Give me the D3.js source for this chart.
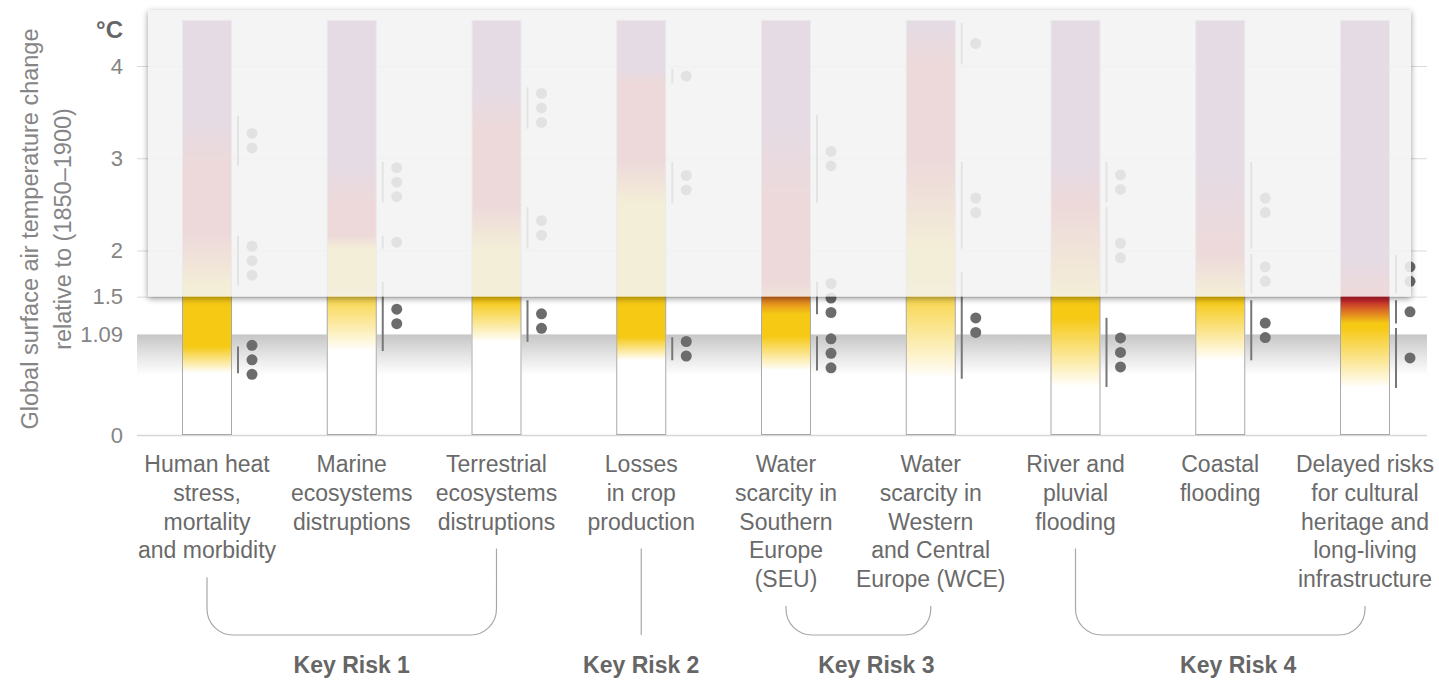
<!DOCTYPE html>
<html>
<head>
<meta charset="utf-8">
<script src="https://cdn.jsdelivr.net/npm/d3@7"></script>
<style>
  html, body { margin: 0; padding: 0; background: #ffffff; }
  svg { display: block; font-family: "Liberation Sans", Arial, sans-serif; }
</style>
</head>
<body>
<svg id="chart" width="1439" height="681"></svg>
<script>
// Risk categories (label lines) in drawing order
const categories = [
  ["Human heat", "stress,", "mortality", "and morbidity"],
  ["Marine", "ecosystems", "distruptions"],
  ["Terrestrial", "ecosystems", "distruptions"],
  ["Losses", "in crop", "production"],
  ["Water", "scarcity in", "Southern", "Europe", "(SEU)"],
  ["Water", "scarcity in", "Western", "and Central", "Europe (WCE)"],
  ["River and", "pluvial", "flooding"],
  ["Coastal", "flooding"],
  ["Delayed risks", "for cultural", "heritage and", "long-living", "infrastructure"]
];

// Risk transitions per category: [from °C, to °C, confidence (number of dots)]
const undetectableToModerate = [
  [0.67, 0.96, 3], [0.91, 1.66, 2], [1.01, 1.46, 2], [0.81, 1.06, 2], [0.70, 1.07, 3],
  [0.61, 1.77, 2], [0.52, 1.27, 3], [0.81, 1.46, 2], [0.51, 1.16, 1]
];
const moderateToHigh = [
  [1.62, 2.16, 3], [2.02, 2.16, 1], [2.02, 2.47, 2], [2.51, 2.96, 2], [1.31, 1.66, 3],
  [2.02, 2.96, 2], [1.53, 2.47, 2], [1.53, 1.96, 2], [1.21, 1.46, 1]
];
const highToVeryHigh = [
  [2.92, 3.46, 2], [2.52, 2.96, 3], [3.32, 3.77, 3], [3.81, 3.97, 1], [2.52, 3.47, 2],
  [4.02, 4.47, 1], [2.52, 2.96, 2], [2.02, 2.96, 2], [1.54, 1.95, 2]
];

// Axis ticks and reference levels
const tickValues = [0, 1.09, 1.5, 2, 3, 4];
const tickLabels = ["0", "1.09", "1.5", "2", "3", "4"];
const observedWarming = 1.09;
const bandFadeTo = 0.65;
const focusLevel = 1.5;
const emberTop = 4.5;

// Key risk groupings (indices into categories)
const keyRiskNames = ["Key Risk 1", "Key Risk 2", "Key Risk 3", "Key Risk 4"];
const keyRiskFirst = [0, 3, 4, 6];
const keyRiskLast  = [2, 3, 5, 8];

// Ember colours: undetectable, moderate, high, very high
const riskColors = ["#ffffff", "#f6c915", "#c4262e", "#7b3680"];

const W = 1439, H = 681;
const svg = d3.select("#chart");
const defs = svg.append("defs");

const plotLeft = 137, plotRight = 1427;
const y = d3.scaleLinear().domain([0, 4]).range([435, 66]);
const x = d3.scaleBand()
  .domain(categories.map((c, i) => i))
  .range([182, 182 + 9 * 144.75]);
const barW = 50;

// ----- observed warming band -----
const bandGrad = defs.append("linearGradient")
  .attr("id", "bandGrad").attr("x1", 0).attr("x2", 0).attr("y1", 0).attr("y2", 1);
bandGrad.append("stop").attr("offset", 0).attr("stop-color", "#c6c6c6");
bandGrad.append("stop").attr("offset", 0.5).attr("stop-color", "#e4e4e4");
bandGrad.append("stop").attr("offset", 1).attr("stop-color", "#ffffff");
svg.append("rect")
  .attr("x", plotLeft).attr("width", plotRight - plotLeft)
  .attr("y", y(observedWarming)).attr("height", y(bandFadeTo) - y(observedWarming))
  .attr("fill", "url(#bandGrad)");

// ----- axis with full-width grid lines -----
const axis = svg.append("g")
  .attr("transform", `translate(${plotLeft},0)`)
  .call(d3.axisLeft(y)
    .tickValues(tickValues)
    .tickFormat((d, i) => tickLabels[i])
    .tickSize(-(plotRight - plotLeft))
    .tickPadding(14));
axis.select(".domain").remove();
axis.selectAll(".tick line")
  .attr("stroke", d => d === 0 ? "#d6d6d6" : "#dadada")
  .attr("stroke-width", d => d === 0 ? 1.6 : 1)
  .attr("stroke-opacity", d => d === observedWarming ? 0 : 1);
axis.selectAll(".tick text")
  .attr("fill", "#858585")
  .attr("font-size", 22)
  .attr("font-family", "'Liberation Sans', Arial, sans-serif");

// ----- ember bars -----
const allTransitions = categories.map((c, i) =>
  [undetectableToModerate[i], moderateToHigh[i], highToVeryHigh[i]]);

allTransitions.forEach((tr, i) => {
  const g = defs.append("linearGradient")
    .attr("id", "ember" + i)
    .attr("gradientUnits", "userSpaceOnUse")
    .attr("x1", 0).attr("x2", 0)
    .attr("y1", y(0)).attr("y2", y(emberTop));
  const stops = [[0, riskColors[0]]];
  tr.forEach((t, k) => {
    stops.push([t[0], riskColors[k]]);
    stops.push([t[1], riskColors[k + 1]]);
  });
  stops.push([emberTop, riskColors[3]]);
  g.selectAll("stop").data(stops).join("stop")
    .attr("offset", d => d[0] / emberTop)
    .attr("stop-color", d => d[1]);
});

const bars = svg.append("g");
bars.selectAll("rect.base").data(categories).join("rect")
  .attr("x", (d, i) => x(i)).attr("width", barW)
  .attr("y", y(emberTop)).attr("height", y(0) - y(emberTop))
  .attr("fill", "#ffffff");
bars.selectAll("rect.ember").data(categories).join("rect")
  .attr("x", (d, i) => x(i) + 0.5).attr("width", barW - 1)
  .attr("y", y(emberTop) + 0.5).attr("height", y(0) - y(emberTop) - 1)
  .attr("fill", (d, i) => `url(#ember${i})`)
  .attr("stroke", "#a9a9a9").attr("stroke-width", 1);

// ----- transition ranges and confidence dots -----
const marks = svg.append("g");
const dotGap = 14.5, dotR = 5.5;
allTransitions.forEach((tr, i) => {
  const right = x(i) + barW;
  tr.forEach(t => {
    marks.append("line")
      .attr("x1", right + 6).attr("x2", right + 6)
      .attr("y1", y(t[1])).attr("y2", y(t[0]))
      .attr("stroke", "#777777").attr("stroke-width", 2);
    const mid = (y(t[0]) + y(t[1])) / 2;
    marks.selectAll(null).data(d3.range(t[2])).join("circle")
      .attr("cx", right + 20)
      .attr("cy", j => mid + (j - (t[2] - 1) / 2) * dotGap)
      .attr("r", dotR)
      .attr("fill", "#6c6c6c");
  });
});

// ----- veil above the 1.5 °C level -----
const panel = { x: 148, y: 10, w: 1411 - 148, h: y(focusLevel) - 10 };
const blur = defs.append("filter").attr("id", "veilBlur")
  .attr("x", "-5%").attr("y", "-20%").attr("width", "110%").attr("height", "140%");
blur.append("feGaussianBlur").attr("stdDeviation", 3);
const mask = defs.append("mask").attr("id", "outsideVeil")
  .attr("maskUnits", "userSpaceOnUse")
  .attr("x", 0).attr("y", 0).attr("width", W).attr("height", H);
mask.append("rect").attr("width", W).attr("height", H).attr("fill", "#fff");
mask.append("rect").attr("x", panel.x).attr("y", panel.y)
  .attr("width", panel.w).attr("height", panel.h).attr("fill", "#000");
svg.append("g").attr("mask", "url(#outsideVeil)")
  .append("rect")
  .attr("x", panel.x).attr("y", panel.y + 2)
  .attr("width", panel.w).attr("height", panel.h)
  .attr("fill", "#000").attr("opacity", 0.4)
  .attr("filter", "url(#veilBlur)");
svg.append("rect")
  .attr("x", panel.x).attr("y", panel.y)
  .attr("width", panel.w).attr("height", panel.h)
  .attr("fill", "#f2f2f2").attr("fill-opacity", 0.88);

// ----- unit and axis title -----
svg.append("text")
  .attr("x", 123).attr("y", 38)
  .attr("text-anchor", "end")
  .attr("font-size", 24).attr("font-weight", "bold")
  .attr("fill", "#666666")
  .text("°C");

const title = svg.append("text")
  .attr("transform", "translate(0,229) rotate(-90)")
  .attr("text-anchor", "middle")
  .attr("font-size", 23.5)
  .attr("fill", "#858585");
title.append("tspan").attr("x", 0).attr("y", 38).text("Global surface air temperature change");
title.append("tspan").attr("x", 0).attr("y", 71).text("relative to (1850\u20131900)");

// ----- category labels -----
const lineH = 28.75, firstLine = 472;
const labels = svg.append("g")
  .attr("font-size", 23).attr("fill", "#6a6a6a").attr("text-anchor", "middle");
categories.forEach((lines, i) => {
  const t = labels.append("text");
  lines.forEach((ln, k) => {
    t.append("tspan")
      .attr("x", x(i) + barW / 2)
      .attr("y", firstLine + k * lineH)
      .text(ln);
  });
});

// ----- key risk brackets -----
const bracketBottom = 635, r = 26;
const labelNudge = [0, 0, 18, 18];
const brackets = svg.append("g");
keyRiskNames.forEach((name, g) => {
  const a = keyRiskFirst[g], b = keyRiskLast[g];
  const xa = x(a) + barW / 2, xb = x(b) + barW / 2;
  const ta = firstLine - 8 + (categories[a].length - 1) * lineH + 27;
  const tb = firstLine - 8 + (categories[b].length - 1) * lineH + 27;
  let p;
  if (a === b) {
    p = `M${xa},${ta}V${bracketBottom}`;
  } else {
    p = `M${xa},${ta}V${bracketBottom - r}A${r},${r} 0 0 0 ${xa + r},${bracketBottom}` +
        `H${xb - r}A${r},${r} 0 0 0 ${xb},${bracketBottom - r}V${tb}`;
  }
  brackets.append("path").attr("d", p)
    .attr("fill", "none").attr("stroke", "#a8a8a8").attr("stroke-width", 1.2);
  brackets.append("text")
    .attr("x", (xa + xb) / 2 + labelNudge[g]).attr("y", 673)
    .attr("text-anchor", "middle")
    .attr("font-size", 23).attr("font-weight", "bold")
    .attr("fill", "#666666")
    .text(name);
});
</script>
</body>
</html>
